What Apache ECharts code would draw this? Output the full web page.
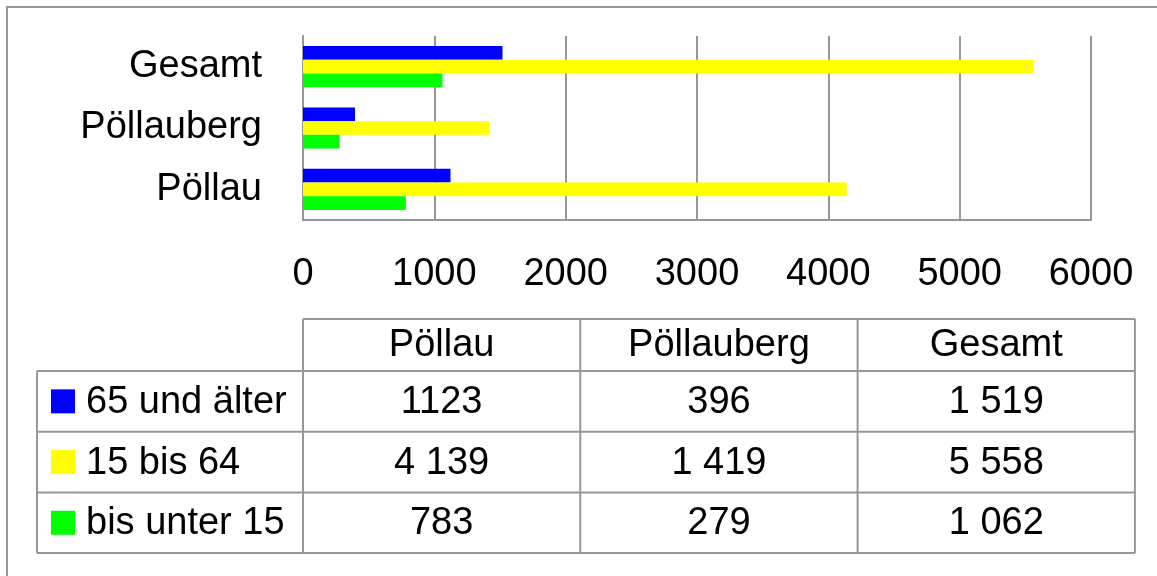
<!DOCTYPE html>
<html>
<head>
<meta charset="utf-8">
<script src="https://cdn.jsdelivr.net/npm/echarts@6/dist/echarts.min.js"></script>
<style>
  html, body { margin: 0; padding: 0; background: #fff; }
  #chart { width: 1157px; height: 576px; }
</style>
</head>
<body>
<div id="chart"></div>
<script>
// data
const places = ['Pöllau', 'Pöllauberg', 'Gesamt'];
const ageGroups = ['65 und älter', '15 bis 64', 'bis unter 15'];
const age65plus = [1123, 396, 1519];
const age15to64 = [4139, 1419, 5558];
const ageUnder15 = [783, 279, 1062];
// table texts as printed
const text65plus = ['1123', '396', '1 519'];
const text15to64 = ['4 139', '1 419', '5 558'];
const textUnder15 = ['783', '279', '1 062'];
const xMax = 6000;
const xStep = 1000;

const FONT = '"Liberation Sans", Arial, sans-serif';
const FS = 38;
const GRAY = '#979797';
const groupColors = ['#0000ff', '#ffff00', '#00ff00'];
const tableRows = [text65plus, text15to64, textUnder15];

const myChart = echarts.init(document.getElementById('chart'));

// table layout
const tLeft = 37, tLabelRight = 303, colW = 277.3;
const headTop = 319, rowTop = 371, rowH = 60.7;
const tRight = tLabelRight + colW * places.length;
const tBottom = rowTop + rowH * ageGroups.length;

function line(x1, y1, x2, y2) {
    return {
        type: 'line', silent: true,
        shape: { x1: x1, y1: y1, x2: x2, y2: y2 },
        style: { stroke: GRAY, lineWidth: 2 }
    };
}
function label(txt, x, y, align) {
    return {
        type: 'text', silent: true,
        style: {
            text: txt, x: x, y: y,
            align: align, textAlign: align,
            verticalAlign: 'middle', textVerticalAlign: 'middle',
            fontSize: FS, fontFamily: FONT, fill: '#000'
        }
    };
}

const graphics = [];
// outer border
graphics.push({
    type: 'rect', silent: true,
    shape: { x: 7, y: 7, width: 1300, height: 700 },
    style: { fill: 'none', stroke: GRAY, lineWidth: 2 }
});
// table grid
graphics.push(line(tLabelRight, headTop, tRight, headTop));
for (let r = 0; r <= ageGroups.length; r++) {
    const y = rowTop + rowH * r;
    graphics.push(line(tLeft, y, tRight, y));
}
graphics.push(line(tLeft, rowTop, tLeft, tBottom));
for (let c = 0; c <= places.length; c++) {
    const x = tLabelRight + colW * c;
    graphics.push(line(x, headTop, x, tBottom));
}
// header
places.forEach((p, c) => {
    graphics.push(label(p, tLabelRight + colW * (c + 0.5), (headTop + rowTop) / 2 + 1, 'center'));
});
// rows
ageGroups.forEach((g, r) => {
    const cy = rowTop + rowH * (r + 0.5);
    graphics.push({
        type: 'rect', silent: true,
        shape: { x: 51, y: cy - 12, width: 24, height: 24 },
        style: { fill: groupColors[r] }
    });
    graphics.push(label(g, 86, cy + 1, 'left'));
    tableRows[r].forEach((t, c) => {
        graphics.push(label(t, tLabelRight + colW * (c + 0.5), cy + 1, 'center'));
    });
});

const option = {
    animation: false,
    grid: { left: 303, right: 66, top: 36, bottom: 356 },
    xAxis: {
        type: 'value', min: 0, max: xMax, interval: xStep,
        axisLine: { show: true, lineStyle: { color: GRAY, width: 2 } },
        axisTick: { show: false },
        splitLine: { show: true, lineStyle: { color: GRAY, width: 2 } },
        axisLabel: { fontSize: FS, fontFamily: FONT, color: '#000', margin: 36, formatter: v => String(v) }
    },
    yAxis: {
        type: 'category', data: places,
        axisLine: { show: true, lineStyle: { color: GRAY, width: 2 } },
        axisTick: { show: false },
        axisLabel: { fontSize: FS, fontFamily: FONT, color: '#000', margin: 41 }
    },
    series: [
        { name: ageGroups[0], type: 'bar', data: age65plus, barWidth: 13.7, barGap: '0%', itemStyle: { color: groupColors[0] } },
        { name: ageGroups[1], type: 'bar', data: age15to64, barWidth: 13.7, barGap: '0%', itemStyle: { color: groupColors[1] } },
        { name: ageGroups[2], type: 'bar', data: ageUnder15, barWidth: 13.7, barGap: '0%', itemStyle: { color: groupColors[2] } }
    ],
    graphic: graphics
};
myChart.setOption(option);
</script>
</body>
</html>
